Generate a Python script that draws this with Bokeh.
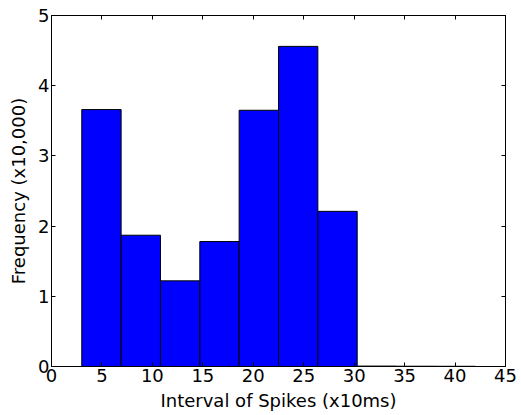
from bokeh.plotting import figure
from bokeh.models import LinearAxis, FixedTicker, Range1d, CustomJSTickFormatter
from bokeh.embed import file_html
from bokeh.resources import INLINE

# Histogram data (bin edges in x10ms, frequencies in x10,000)
bin_edges = [3.0, 6.9, 10.8, 14.7, 18.6, 22.5, 26.4, 30.3, 34.2, 38.1, 42.0]
frequencies = [3.66, 1.87, 1.22, 1.78, 3.65, 4.56, 2.21, 0.006, 0.004, 0.003]
x_ticks = [0, 5, 10, 15, 20, 25, 30, 35, 40, 45]
y_ticks = [0, 1, 2, 3, 4, 5]

FONT = "DejaVu Sans"
FS = "18px"

p = figure(width=521, height=415, output_backend="svg", toolbar_location=None,
           x_range=Range1d(0, 45), y_range=Range1d(0, 5),
           min_border_left=51, min_border_right=16, min_border_top=15, min_border_bottom=49,
           x_axis_label="Interval of Spikes (x10ms)", y_axis_label="Frequency (x10,000)")
p.background_fill_color = "white"
p.border_fill_color = "white"
p.outline_line_color = "black"
p.outline_line_width = 1
p.xgrid.visible = False
p.ygrid.visible = False

p.quad(left=bin_edges[:-1], right=bin_edges[1:], bottom=0, top=frequencies,
       fill_color="#0000ff", line_color="black", line_width=1)

def style(ax, ticks, labels=True):
    ax.ticker = FixedTicker(ticks=ticks)
    ax.major_tick_in = 4
    ax.major_tick_out = 0
    ax.minor_tick_line_color = None
    ax.axis_line_color = "black"
    ax.major_tick_line_color = "black"
    ax.major_label_text_font = FONT
    ax.major_label_text_font_size = FS
    ax.major_label_text_color = "black"
    ax.axis_label_text_font = FONT
    ax.axis_label_text_font_size = FS
    ax.axis_label_text_font_style = "normal"
    ax.axis_label_text_color = "black"
    ax.major_label_standoff = 2
    if not labels:
        ax.formatter = CustomJSTickFormatter(code="return ''")
        ax.major_label_text_font_size = "0px"
        ax.major_label_standoff = 0

style(p.xaxis[0], x_ticks)
style(p.yaxis[0], y_ticks)
p.xaxis[0].axis_label_standoff = 5
p.yaxis[0].axis_label_standoff = 6

top_ax = LinearAxis()
right_ax = LinearAxis()
style(top_ax, x_ticks, labels=False)
style(right_ax, y_ticks, labels=False)
p.add_layout(top_ax, "above")
p.add_layout(right_ax, "right")

open("out.html", "w").write(file_html(p, INLINE))
